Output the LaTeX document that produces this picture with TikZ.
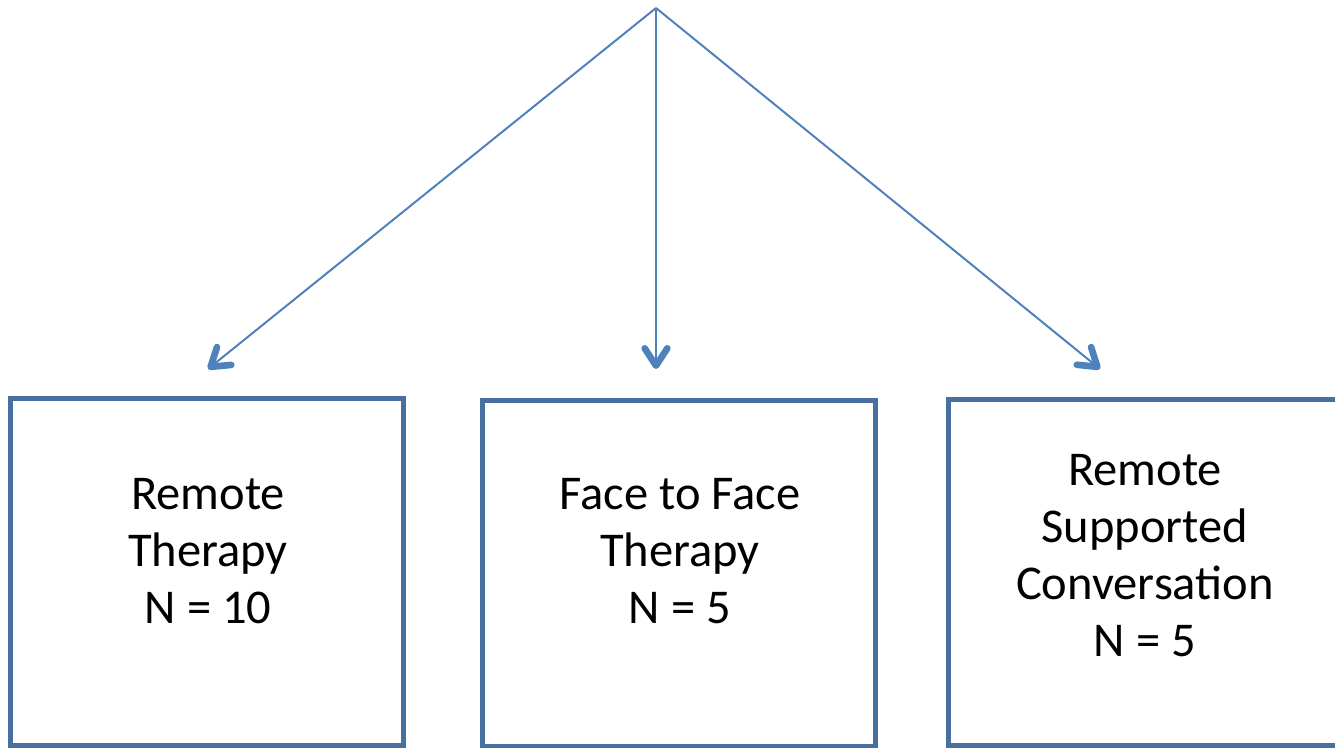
\documentclass[tikz,border=0pt]{standalone}
\usepackage{fontspec}
\setmainfont{Carlito}
\usetikzlibrary{arrows.meta}
\definecolor{arrowblue}{RGB}{79,129,189}
\definecolor{boxblue}{RGB}{72,112,158}
\tikzset{
  groupbox/.style={draw=boxblue, line width=3.75pt, minimum width=294.75pt, minimum height=260pt, inner sep=0pt},
  grouptext/.style={align=center, font=\fontsize{36.4}{42.75}\selectfont, text=black, inner sep=0pt},
  splitarrow/.style={draw=arrowblue, line width=1.5pt, -{Straight Barb[length=13pt, width=17pt, line width=5pt 0, round]}}
}
\begin{document}
\begin{tikzpicture}[x=0.75pt, y=-0.75pt]
\useasboundingbox (0,0) rectangle (1335,748);
\clip (0,0) rectangle (1335,748);
\node[groupbox] (b1) at (207,572.25) {};
\node[groupbox] (b2) at (679,573.5) {};
\node[groupbox] (b3) at (1145,572.5) {};
\node[grouptext] (t1) at (208,551) {Remote\\Therapy\\N = 10};
\node[grouptext] (t2) at (680,551) {Face to Face\\Therapy\\N = 5};
\node[grouptext] (t3) at (1145,556) {Remote\\Supported\\Conversation\\N = 5};
\coordinate (apex) at (656,8);
\coordinate (e1) at (208,369);
\coordinate (e2) at (656,369);
\coordinate (e3) at (1100,369);
\draw[splitarrow] (apex) -- (e1);
\draw[splitarrow] (apex) -- (e2);
\draw[splitarrow] (apex) -- (e3);
\end{tikzpicture}
\end{document}
